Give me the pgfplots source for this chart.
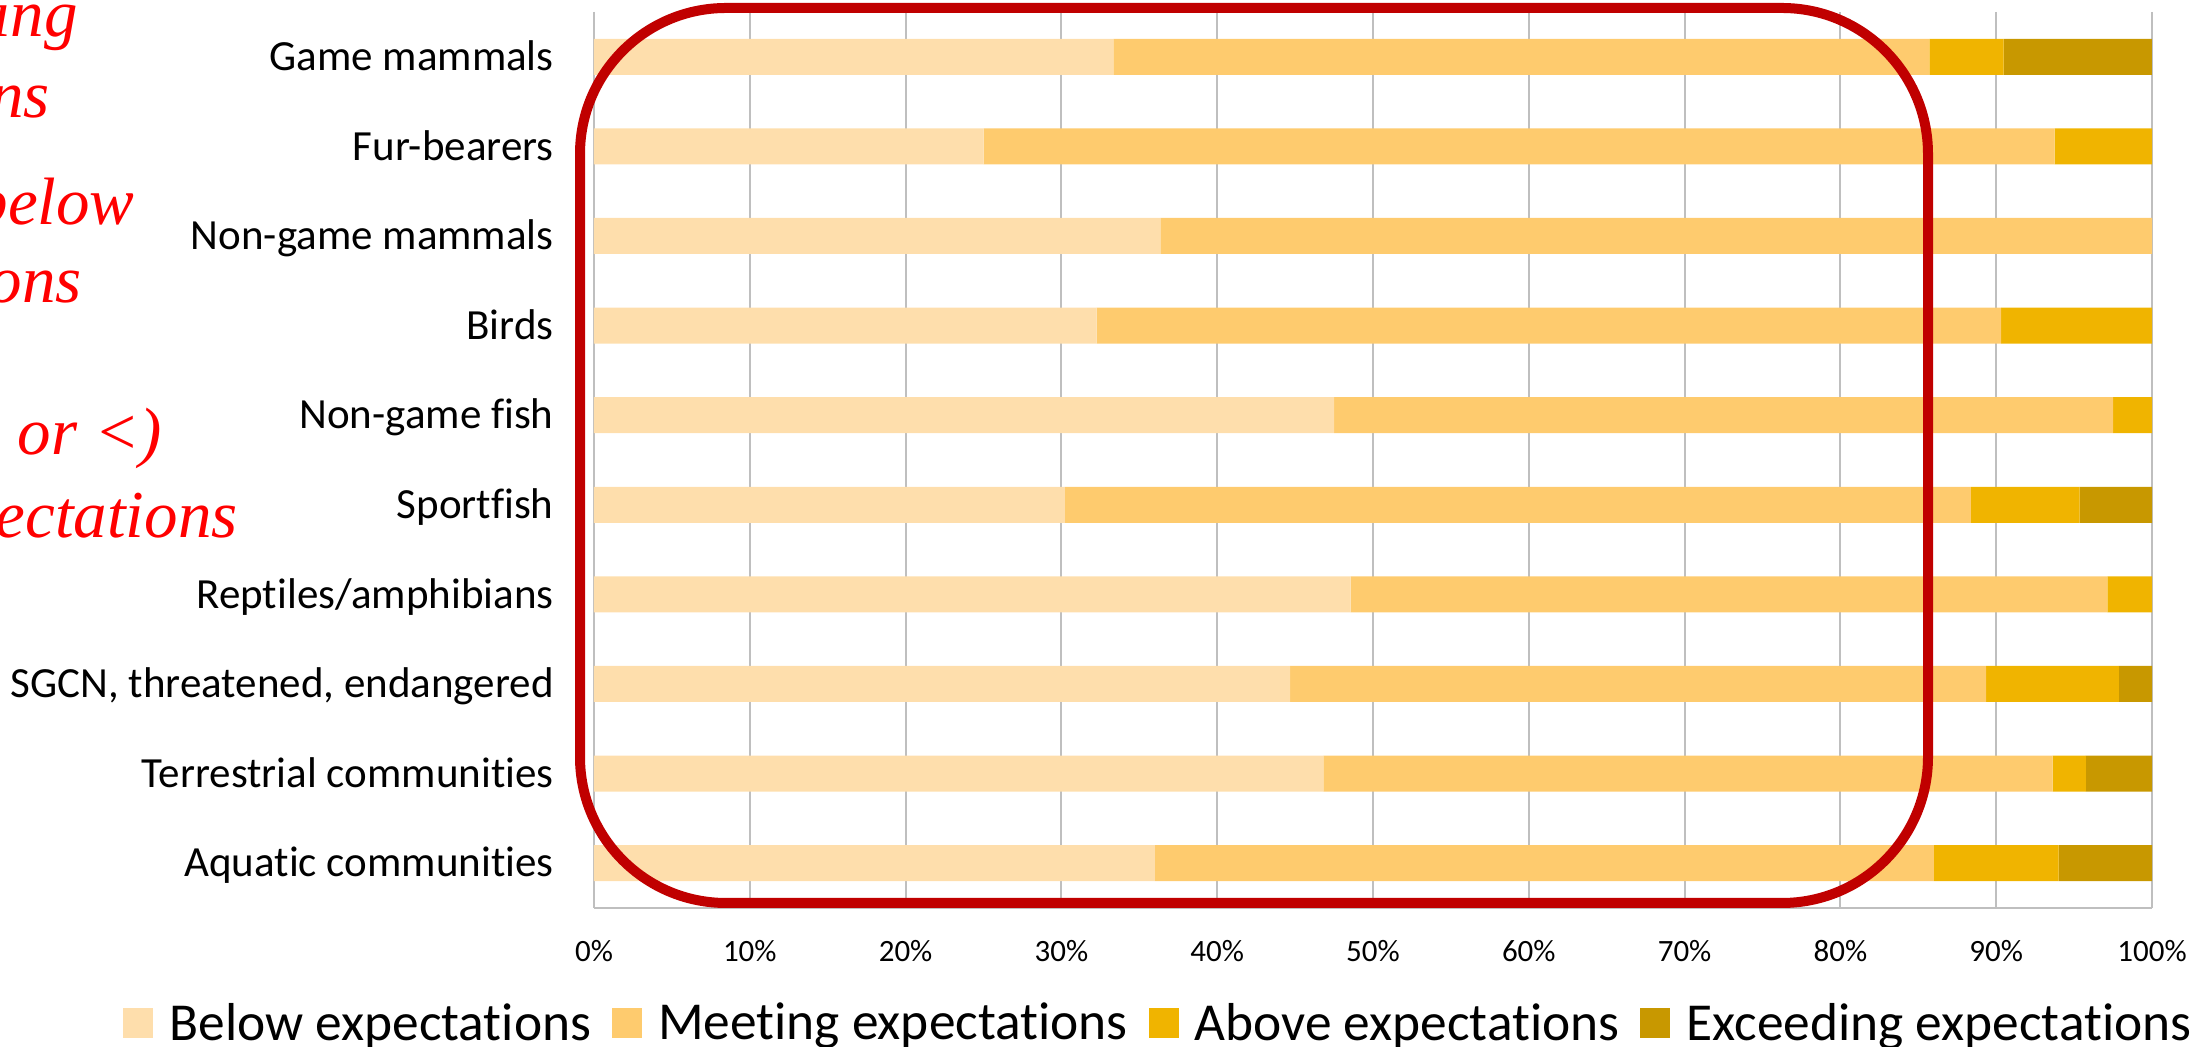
\documentclass[border=0pt]{standalone}
\usepackage{pgfplots}
\pgfplotsset{compat=1.18}
\usepackage{pgfplotstable}
\usepackage{fontspec}
\setmainfont{Carlito}[Ligatures=NoCommon]
\newfontfamily\redserif{Liberation Serif}
\definecolor{cBelow}{RGB}{254,222,172}
\definecolor{cMeet}{RGB}{254,203,110}
\definecolor{cAbove}{RGB}{240,180,0}
\definecolor{cExceed}{RGB}{200,152,0}
\definecolor{gridc}{RGB}{191,191,191}
\definecolor{boxred}{RGB}{192,0,0}
\pgfplotstableread{
idx below meet above exceed
0 33.33 52.38 4.76 9.52
1 25.00 68.75 6.25 0
2 36.36 63.64 0 0
3 32.26 58.06 9.68 0
4 47.50 50.00 2.50 0
5 30.23 58.14 6.98 4.65
6 48.57 48.57 2.86 0
7 44.68 44.68 8.51 2.13
8 46.81 46.81 2.13 4.26
9 36.00 50.00 8.00 6.00
}\datatable
\begin{document}
\begin{tikzpicture}
\useasboundingbox (0,0) rectangle (1101pt,523.5pt);
\begin{scope}[every node/.style={inner sep=0pt, anchor=base east, text=red, font=\redserif\itshape\fontsize{33.5}{40}\selectfont}]
\node at (39pt,505pt) {Meeting};
\node at (25pt,464.5pt) {expectations};
\node at (67.5pt,411pt) {or below};
\node at (41pt,372pt) {expectations};
\node at (81pt,296pt) {(= or <)};
\node at (119pt,254.5pt) {expectations};
\end{scope}
\begin{axis}[
  at={(297pt,69.5pt)}, anchor=south west,
  scale only axis, width=779pt, height=448pt,
  xbar stacked, bar width=18pt,
  xmin=0, xmax=100, ymin=-0.5, ymax=9.5, y dir=reverse,
  enlargelimits=false,
  xtick={0,10,20,30,40,50,60,70,80,90,100},
  xticklabels={0\%,10\%,20\%,30\%,40\%,50\%,60\%,70\%,80\%,90\%,100\%},
  ytick={0,1,2,3,4,5,6,7,8,9},
  yticklabels={Game mammals~,Fur-bearers,Non-game mammals,Birds,Non-game fish,Sportfish,Reptiles/amphibians,{SGCN, threatened, endangered},Terrestrial communities,Aquatic communities},
  xmajorgrids, major grid style={draw=gridc, line width=1pt},
  axis x line*=bottom, axis y line*=left,
  axis line style={draw=gridc, line width=1pt, -},
  major tick length=0pt,
  xticklabel style={font=\fontsize{15.5}{18}\selectfont, anchor=north, inner sep=0pt, yshift=-16pt},
  yticklabel style={font=\fontsize{21.5}{26}\selectfont, anchor=base east, inner sep=0pt, xshift=-20pt, yshift=-6.9pt},
  legend columns=4,
  legend cell align=left,
  legend image code/.code={\fill[#1] (0pt,-7.5pt) rectangle (15pt,7.5pt);},
  legend style={at={(-0.3023,-0.12835)}, anchor=west, draw=none, fill=none, inner sep=0pt,
    font=\fontsize{26.7}{32}\selectfont, nodes={inner sep=0pt},
    /tikz/every odd column/.append style={column sep=8pt},
    /tikz/every even column/.append style={column sep=10.5pt}},
]
\addplot[fill=cBelow, draw=none] table[x=below, y=idx] \datatable;
\addplot[fill=cMeet, draw=none] table[x=meet, y=idx] \datatable;
\addplot[fill=cAbove, draw=none] table[x=above, y=idx] \datatable;
\addplot[fill=cExceed, draw=none] table[x=exceed, y=idx] \datatable;
\legend{Below expectations, Meeting expectations, Above expectations, Exceeding expectations}
\end{axis}
\draw[draw=boxred, line width=5pt, rounded corners=73pt] (290pt,72pt) rectangle (964pt,519.5pt);
\end{tikzpicture}
\end{document}
